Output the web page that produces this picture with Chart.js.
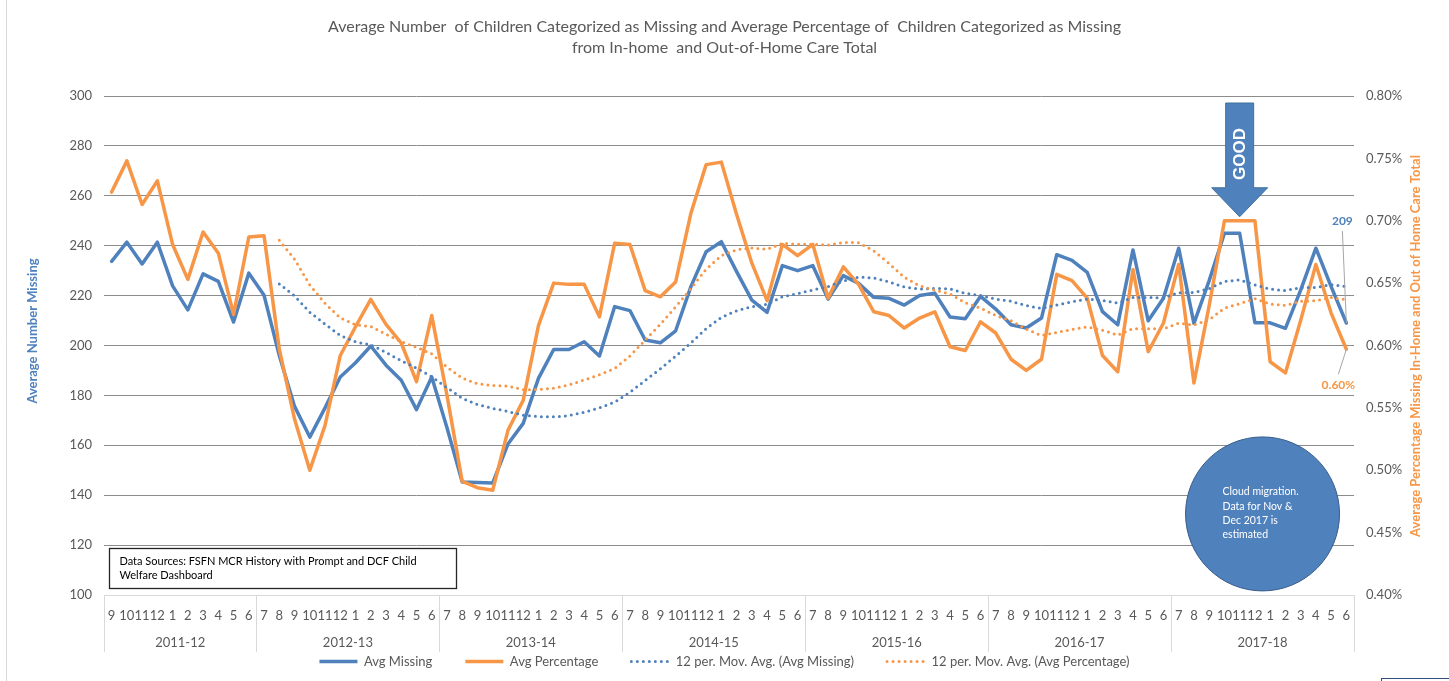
<!DOCTYPE html>
<html>
<head>
<meta charset="utf-8">
<title>Children Categorized as Missing</title>
<script src="https://cdn.jsdelivr.net/npm/chart.js@4.4.1/dist/chart.umd.min.js"></script>
<style>
  html, body { margin: 0; padding: 0; background: #fff; }
  #wrap { width: 1449px; height: 681px; position: relative; }
</style>
</head>
<body>
<div id="wrap"><canvas id="missingChart"></canvas></div>
<script>
// month numbers on the axis, grouped by fiscal year (first year starts in September)
const firstYearMonths = ["9", "10", "11", "12", "1", "2", "3", "4", "5", "6"];
const fiscalMonths = ["7", "8", "9", "10", "11", "12", "1", "2", "3", "4", "5", "6"];
const fiscalYears = ["2011-12", "2012-13", "2013-14", "2014-15", "2015-16", "2016-17", "2017-18"];
const yearLengths = [10, 12, 12, 12, 12, 12, 12];

const monthLabels = firstYearMonths.concat(
  fiscalMonths, fiscalMonths, fiscalMonths, fiscalMonths, fiscalMonths, fiscalMonths
);

// average number of children missing per month
const avgMissing = [
  233.7, 241.4, 232.7, 241.4, 223.9, 214.3, 228.7, 225.7, 209.4, 229.0,
  220.1, 196.0, 175.6, 163.3, 175.0, 187.4, 193.1, 199.8, 192.1, 186.1, 174.3, 187.4,
  167.0, 145.3, 145.1, 144.9, 160.5, 168.8, 186.8, 198.4, 198.4, 201.5, 195.8, 215.6,
  214.0, 202.2, 201.1, 205.9, 223.6, 237.6, 241.6, 229.6, 218.2, 213.3, 232.0, 230.0,
  232.0, 218.6, 228.0, 224.9, 219.3, 218.9, 216.2, 220.0, 221.0, 211.4, 210.7, 219.7,
  214.6, 208.3, 207.0, 211.0, 236.4, 234.1, 229.3, 213.6, 208.3, 238.3, 209.9, 218.9,
  239.0, 208.9, 226.0, 245.0, 245.0, 209.1, 209.1, 206.9, 222.2, 239.0, 223.6, 209.0
];

// average percentage of children missing (in %)
const avgPercentage = [
  0.723, 0.748, 0.713, 0.732, 0.681, 0.653, 0.691, 0.674, 0.625, 0.687,
  0.688, 0.597, 0.541, 0.500, 0.536, 0.592, 0.615, 0.637, 0.617, 0.602, 0.571, 0.624,
  0.560, 0.491, 0.486, 0.484, 0.532, 0.556, 0.616, 0.650, 0.649, 0.649, 0.623, 0.682,
  0.681, 0.644, 0.639, 0.651, 0.706, 0.745, 0.747, 0.705, 0.666, 0.636, 0.681, 0.672,
  0.681, 0.638, 0.663, 0.649, 0.627, 0.624, 0.614, 0.622, 0.627, 0.599, 0.596, 0.619,
  0.610, 0.589, 0.580, 0.589, 0.657, 0.652, 0.638, 0.592, 0.579, 0.661, 0.595, 0.618,
  0.665, 0.570, 0.632, 0.700, 0.700, 0.700, 0.587, 0.578, 0.620, 0.665, 0.626, 0.597
];

const titleLines = [
  "Average Number  of Children Categorized as Missing and Average Percentage of  Children Categorized as Missing",
  "from In-home  and Out-of-Home Care Total"
];
const leftAxisTitle = "Average Number Missing";
const rightAxisTitle = "Average Percentage Missing In-Home and Out of Home Care Total";
const sourceLines = ["Data Sources: FSFN MCR History with Prompt and DCF Child", "Welfare Dashboard"];
const noteLines = ["Cloud migration.", "Data for Nov &", "Dec 2017 is", "estimated"];

const BLUE = "#4F81BD";
const ORANGE = "#F79646";
const GREY_TEXT = "#595959";

// trailing 12-month average, like Excel's moving average trendline
function movingAverage(values, period) {
  return values.map((v, i) => {
    if (i < period - 1) return null;
    let sum = 0;
    for (let k = i - period + 1; k <= i; k++) sum += values[k];
    return sum / period;
  });
}

Chart.defaults.font.family = "Lato";
Chart.defaults.color = GREY_TEXT;

// white page and thin frame line on the left
const background = {
  id: "background",
  beforeDraw(chart) {
    const { ctx, width, height } = chart;
    ctx.save();
    ctx.fillStyle = "#fff";
    ctx.fillRect(0, 0, width, height);
    ctx.strokeStyle = "#d9d9d9";
    ctx.lineWidth = 1;
    ctx.beginPath();
    ctx.moveTo(6.5, 0);
    ctx.lineTo(6.5, height);
    ctx.stroke();
    ctx.strokeStyle = "#2f4f80";
    ctx.strokeRect(1381.5, 678.5, 80, 10);
    ctx.restore();
  },
};

// chart title and both axis titles
const headings = {
  id: "headings",
  afterDraw(chart) {
    const { ctx, width } = chart;
    ctx.save();
    ctx.textAlign = "center";
    ctx.textBaseline = "middle";
    ctx.fillStyle = GREY_TEXT;
    ctx.font = "16px Lato";
    titleLines.forEach((line, i) => ctx.fillText(line, width / 2, 27 + i * 21));

    ctx.font = "bold 13px Lato";
    ctx.fillStyle = BLUE;
    ctx.save();
    ctx.translate(33, 331);
    ctx.rotate(-Math.PI / 2);
    ctx.fillText(leftAxisTitle, 0, 0);
    ctx.restore();

    ctx.fillStyle = ORANGE;
    ctx.save();
    ctx.translate(1416, 346);
    ctx.rotate(-Math.PI / 2);
    ctx.fillText(rightAxisTitle, 0, 0);
    ctx.restore();
    ctx.restore();
  },
};

// fiscal year row under the month ticks, with separators
const yearGroups = {
  id: "yearGroups",
  afterDraw(chart) {
    const { ctx } = chart;
    const x = chart.scales.x;
    const half = (x.getPixelForValue(1) - x.getPixelForValue(0)) / 2;
    const edge = (i) => x.getPixelForValue(i) - half;
    const top = x.top;
    const bottom = top + 57;
    ctx.save();
    ctx.strokeStyle = "#d9d9d9";
    ctx.lineWidth = 1;
    ctx.fillStyle = GREY_TEXT;
    ctx.font = "13px Lato";
    ctx.textAlign = "center";
    ctx.textBaseline = "middle";
    let start = 0;
    const drawSep = (px) => {
      const sx = Math.round(px) + 0.5;
      ctx.beginPath();
      ctx.moveTo(sx, top);
      ctx.lineTo(sx, bottom);
      ctx.stroke();
    };
    drawSep(edge(0));
    fiscalYears.forEach((label, k) => {
      const end = start + yearLengths[k];
      drawSep(edge(end));
      ctx.fillText(label, (edge(start) + edge(end)) / 2, top + 48);
      start = end;
    });
    ctx.restore();
  },
};

// value labels, the GOOD arrow, the note bubble and the sources box
const notes = {
  id: "notes",
  afterDatasetsDraw(chart) {
    const { ctx, chartArea } = chart;
    const { x, y, y1 } = chart.scales;
    const last = avgMissing.length - 1;
    const px = x.getPixelForValue(last);
    const pyM = y.getPixelForValue(avgMissing[last]);
    const pyP = y1.getPixelForValue(avgPercentage[last]);

    ctx.save();
    // leader lines
    ctx.strokeStyle = "#a6a6a6";
    ctx.lineWidth = 1;
    ctx.beginPath();
    ctx.moveTo(px - 4, pyM - 92);
    ctx.lineTo(px, pyM);
    ctx.moveTo(px, pyP);
    ctx.lineTo(px - 8, pyP + 25);
    ctx.stroke();

    ctx.font = "bold 12px Lato";
    ctx.textAlign = "center";
    ctx.textBaseline = "middle";
    ctx.fillStyle = BLUE;
    ctx.fillText(String(Math.round(avgMissing[last])), px - 4, pyM - 102);
    ctx.fillStyle = ORANGE;
    ctx.fillText(avgPercentage[last].toFixed(2) + "%", px - 8, pyP + 36);

    // downward arrow over Nov 2017
    const ax = x.getPixelForValue(74);
    const tip = y1.getPixelForValue(0.7) - 4;
    const shaftTop = chartArea.top + 7;
    const headBase = tip - 29;
    ctx.beginPath();
    ctx.moveTo(ax - 14, shaftTop);
    ctx.lineTo(ax + 14, shaftTop);
    ctx.lineTo(ax + 14, headBase);
    ctx.lineTo(ax + 28, headBase);
    ctx.lineTo(ax, tip);
    ctx.lineTo(ax - 28, headBase);
    ctx.lineTo(ax - 14, headBase);
    ctx.closePath();
    ctx.fillStyle = BLUE;
    ctx.fill();
    ctx.strokeStyle = "#41719C";
    ctx.stroke();
    ctx.save();
    ctx.translate(ax, shaftTop + 51);
    ctx.rotate(-Math.PI / 2);
    ctx.fillStyle = "#fff";
    ctx.font = "bold 17px 'Liberation Sans'";
    ctx.fillText("GOOD", 0, 1);
    ctx.restore();

    // note bubble
    const cx = x.getPixelForValue(75.5);
    const cy = y1.getPixelForValue(0.465);
    ctx.beginPath();
    ctx.arc(cx, cy, 77, 0, Math.PI * 2);
    ctx.fillStyle = BLUE;
    ctx.fill();
    ctx.strokeStyle = "#385D8A";
    ctx.stroke();
    ctx.fillStyle = "#fff";
    ctx.font = "10.5px Lato";
    ctx.textAlign = "left";
    noteLines.forEach((line, i) => ctx.fillText(line, cx - 40, cy - 22 + i * 14.3));

    // sources box
    const bx = chartArea.left + 5.5;
    const by = chartArea.bottom - 46.5;
    ctx.fillStyle = "#fff";
    ctx.fillRect(bx, by, 347, 40);
    ctx.strokeStyle = "#262626";
    ctx.lineWidth = 1.3;
    ctx.strokeRect(bx, by, 347, 40);
    ctx.fillStyle = "#000";
    ctx.font = "11px Lato";
    sourceLines.forEach((line, i) => ctx.fillText(line, bx + 10, by + 12.5 + i * 14));
    ctx.restore();
  },
};

// legend samples drawn as short line segments with each dataset's own dash
function legendLabels(chart) {
  const items = Chart.defaults.plugins.legend.labels.generateLabels(chart);
  return items.map((item) => {
    const ds = chart.data.datasets[item.datasetIndex];
    return Object.assign(item, {
      strokeStyle: ds.borderColor,
      fillStyle: ds.borderColor,
      lineWidth: ds.borderWidth,
      lineDash: ds.borderDash || [],
      lineCap: ds.borderDash ? "round" : "butt",
      pointStyle: "line",
      fontColor: GREY_TEXT,
    });
  });
}

const ctx = document.getElementById("missingChart").getContext("2d");

const chart = new Chart(ctx, {
  type: "line",
  data: {
    labels: monthLabels,
    datasets: [
      {
        label: "Avg Missing",
        data: avgMissing,
        yAxisID: "y",
        borderColor: BLUE,
        backgroundColor: BLUE,
        borderWidth: 3.5,
        borderJoinStyle: "round",
        borderCapStyle: "round",
        pointRadius: 0,
        tension: 0,
        order: 3,
      },
      {
        label: "Avg Percentage",
        data: avgPercentage,
        yAxisID: "y1",
        borderColor: ORANGE,
        backgroundColor: ORANGE,
        borderWidth: 3.5,
        borderJoinStyle: "round",
        borderCapStyle: "round",
        pointRadius: 0,
        tension: 0,
        order: 2,
      },
      {
        label: "12 per. Mov. Avg. (Avg Missing)",
        data: movingAverage(avgMissing, 12),
        yAxisID: "y",
        borderColor: BLUE,
        backgroundColor: BLUE,
        borderWidth: 3,
        borderDash: [0, 6],
        borderCapStyle: "round",
        pointRadius: 0,
        tension: 0,
        order: 1,
      },
      {
        label: "12 per. Mov. Avg. (Avg Percentage)",
        data: movingAverage(avgPercentage, 12),
        yAxisID: "y1",
        borderColor: ORANGE,
        backgroundColor: ORANGE,
        borderWidth: 3,
        borderDash: [0, 6],
        borderCapStyle: "round",
        pointRadius: 0,
        tension: 0,
        order: 0,
      },
    ],
  },
  options: {
    responsive: true,
    maintainAspectRatio: false,
    animation: false,
    layout: {
      padding: { top: 96, right: 0, bottom: 3, left: 0 },
    },
    plugins: {
      title: { display: false },
      tooltip: { enabled: false },
      legend: {
        position: "bottom",
        labels: {
          usePointStyle: true,
          pointStyle: "line",
          pointStyleWidth: 38,
          color: GREY_TEXT,
          font: { family: "Lato", size: 13 },
          padding: 33,
          sort: (a, b) => a.datasetIndex - b.datasetIndex,
          generateLabels: legendLabels,
        },
      },
    },
    scales: {
      x: {
        type: "category",
        offset: true,
        grid: { display: false },
        border: { display: true, color: "#d9d9d9", width: 1 },
        ticks: {
          autoSkip: false,
          maxRotation: 0,
          minRotation: 0,
          color: GREY_TEXT,
          font: { family: "Lato", size: 13 },
          padding: 5,
        },
        afterFit(scale) {
          scale.height = 27;
        },
      },
      y: {
        position: "left",
        min: 100,
        max: 300,
        ticks: {
          stepSize: 20,
          color: GREY_TEXT,
          font: { family: "Lato", size: 13 },
          padding: 12,
        },
        grid: {
          color: (c) => (c.tick && c.tick.value === 100 ? "rgba(0,0,0,0)" : "#8c8c8c"),
          drawTicks: false,
        },
        border: { display: false },
        afterFit(scale) {
          scale.width = 104;
        },
      },
      y1: {
        position: "right",
        min: 0.4,
        max: 0.8,
        ticks: {
          stepSize: 0.05,
          color: GREY_TEXT,
          font: { family: "Lato", size: 13 },
          padding: 12,
          callback: (v) => Number(v).toFixed(2) + "%",
        },
        grid: { drawOnChartArea: false, drawTicks: false },
        border: { display: false },
        afterFit(scale) {
          scale.width = 95;
        },
      },
    },
  },
  plugins: [background, headings, yearGroups, notes],
});
</script>
</body>
</html>
